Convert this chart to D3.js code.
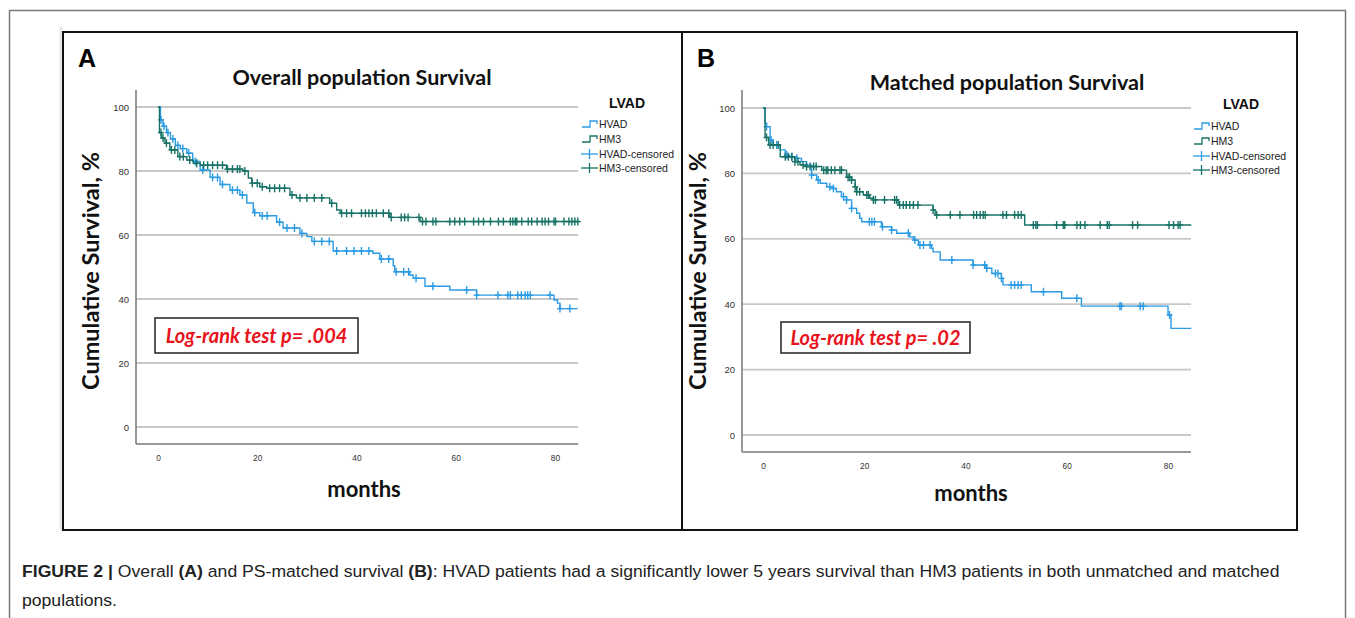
<!DOCTYPE html>
<html><head><meta charset="utf-8">
<script src="https://cdn.jsdelivr.net/npm/d3@7"></script>
<style>
html,body{margin:0;padding:0;background:#fff;}
svg{display:block;}
</style></head>
<body>
<svg id="fig" width="1355" height="618"></svg>
<script>
// ---------- DATA ----------
const xTicks = [0, 20, 40, 60, 80];
const yTicks = [0, 20, 40, 60, 80, 100];
const seriesNames = ["HVAD", "HM3"];
const legendLabels = ["HVAD", "HM3", "HVAD-censored", "HM3-censored"];
const panelTitles = ["Overall population Survival", "Matched population Survival"];
const panelLetters = ["A", "B"];
const logRankTexts = ["Log-rank test p= .004", "Log-rank test p= .02"];
const followUpEnd = [84.6, 84.6];

// Panel A – step changes (months, survival %)
const hvadA_t = [0,0.5,1.0,1.7,2.5,3.5,4.5,5.8,7.0,8.5,10.5,12.5,14.5,16.5,17.9,19.2,20.5,23.9,25.2,28.6,30,31,35.3,43.3,44.7,47.4,47.7,50.7,51.4,53.8,58.8,64.2,79.8,80.5,81];
const hvadA_s = [100,96,94,92,90,88,87,85.6,83,80.3,78,75.8,74,72.5,70,67,66,64,62.2,60.5,59.5,58,55,54.3,52.5,50.4,48.5,47.5,46.5,44,42.8,41.2,39.7,38.7,37];
const hm3A_t = [0,0.3,0.7,1.4,2.4,4,5.8,7.1,8.5,13.8,17.1,18.2,18.9,20.5,21.9,26.6,27.9,34.6,36,36.7,46.7,52.8];
const hm3A_s = [100,92,90.3,88.7,86.6,84.5,83.4,82.4,81.8,80.6,80,77.8,76.2,75.1,74.6,72.5,71.6,69.9,67.8,66.8,65.5,64.2];
const hvadA_cens = [0.6,1.2,2,3,4,5,6.2,7.5,9,11,12,13,15,16,17,19.5,21,22,24.5,26,27.5,29,31.5,33,34.5,36,38,39.5,41,42.5,45,46.5,48,49.5,50.5,52,55.4,62.2,64.2,68.5,70.5,71,72.5,73.2,74,74.5,75,79,81,83];
const hm3A_cens = [0.6,1,1.7,2.7,3.4,4.4,5.1,6.4,7.8,9.2,10,11,12,13,14,15,16,16.5,17.5,19,20,21,22.5,23.5,24.5,25.5,27,28.6,30,31.5,33,35,37,38,39,41,41.8,42.5,43.2,44,45.4,46.5,47,49,49.7,50.4,52.6,53.3,54,55.4,56,58.8,59.8,60.8,61.8,63.6,64.6,65.6,67,68.6,69.6,71,71.5,72,72.3,73.3,74.6,75.3,76.4,77.4,78,78.7,79.8,80.1,81.8,82.8,83.4,84,84.6];

// Panel B – step changes (months, survival %)
const hvadB_t = [0,0.4,0.7,1.4,2.0,3.4,4.4,5.3,6.6,7.6,8.6,9.6,10.6,11.3,12.6,13.9,14.5,15.5,16.5,17.5,18.5,19.1,19.5,23.4,25.4,26.4,29,29.7,30.7,33.3,33.6,35,41.5,44,45.2,47.1,47.4,53,59,62.9,80,80.6];
const hvadB_s = [100,95.3,94.3,90.2,88.7,87.2,85.6,85.1,84.6,83.6,82.6,79.5,78,77,75.9,75.4,74.4,72.9,71.9,69.3,67.8,66.3,65.2,63.7,62.7,61.7,60.6,59.6,58.1,57.1,56,53.5,52,51,49.4,47.9,45.9,43.8,41.8,39.4,36.7,32.6];
const hm3B_t = [0,0.4,1.1,3.4,6.3,7.3,8.6,11.6,16.5,17.5,18.2,18.5,19.8,21.1,21.8,26.7,33.6,34,51.7];
const hm3B_s = [100,91,88.7,85.1,83.6,82.6,82.1,81,78.8,78,75.9,74.4,73.4,72.4,71.9,70.3,68.8,67.3,64.2];
const hvadB_cens = [0.7,1.6,2.7,4.7,5.7,6.7,9.6,10.9,13.2,13.9,15.9,16.5,17.5,21,21.5,22,23.6,25.4,28.7,30,31,31.7,33,37.3,41.5,43.8,44.2,45.9,46.4,47.1,49,49.7,50.4,51,55.4,62,70.5,70.8,74.5,75.1,80.3];
const hm3B_cens = [0.7,1.4,2,3,4.4,5,5.7,6.3,6.9,7.9,8.6,9.3,10,10.5,12,12.5,12.8,13.5,14.2,15.2,15.5,16.8,17.1,17.5,18.2,18.5,19.1,20.5,20.8,21.8,22.2,24,26,26.4,27,27.7,28.3,29,29.7,30.6,33.6,34.3,37,38.9,41.6,42.2,42.9,43.5,43.9,47.4,48.1,49.7,50.4,51,53.4,53.9,54.2,58,59.3,59.6,62,62.7,63.6,66.6,68,68.4,73,74,80.2,81.1,82,82.4];

const captionLine1Bold = "FIGURE 2 |";
const captionLine1 = [
  {t:" Overall ", b:false},{t:"(A)", b:true},{t:" and PS-matched survival ", b:false},{t:"(B)", b:true},
  {t:": HVAD patients had a significantly lower 5 years survival than HM3 patients in both unmatched and matched", b:false}
];
const captionLine2 = "populations.";

// ---------- STYLE ----------
const COL = {HVAD:"#2b9be3", HM3:"#177266"};
const svg = d3.select("#fig");

// outer frames
svg.append("rect").attr("x",9.5).attr("y",10.5).attr("width",1336).attr("height",640)
  .attr("fill","none").attr("stroke","#7a7a7a").attr("stroke-width",1.5);
svg.append("line").attr("x1",61).attr("x2",61).attr("y1",27).attr("y2",530).attr("stroke","#e6e6e6").attr("stroke-width",3);
svg.append("rect").attr("x",63).attr("y",32).attr("width",1234).attr("height",498)
  .attr("fill","none").attr("stroke","#111").attr("stroke-width",2);
svg.append("line").attr("x1",682).attr("x2",682).attr("y1",32).attr("y2",530).attr("stroke","#111").attr("stroke-width",2);

const layouts = [
  {axisX:136, endX:578, x0:158, x80:555, y0:427, y100:107, base:444, top:90,
   letterX:78, titleX:362, titleY:85, ytitleX:99, ytitleY:271, xtitleX:364, xtitleY:497,
   legX:582, legTitleX:627, legTitleY:108, legY:[124,139,154,168],
   box:[155,318,203,35], boxTextY:343,
   data:{HVAD:[hvadA_t,hvadA_s,hvadA_cens], HM3:[hm3A_t,hm3A_s,hm3A_cens]}},
  {axisX:742, endX:1191, x0:763, x80:1168, y0:435, y100:108, base:452, top:90,
   letterX:697, titleX:1007, titleY:90, ytitleX:706, ytitleY:271, xtitleX:971, xtitleY:501,
   legX:1194, legTitleX:1241, legTitleY:109, legY:[126,141,156,170],
   box:[781,322,189,31], boxTextY:345,
   data:{HVAD:[hvadB_t,hvadB_s,hvadB_cens], HM3:[hm3B_t,hm3B_s,hm3B_cens]}}
];

layouts.forEach((L, i) => {
  const g = svg.append("g");
  const x = d3.scaleLinear().domain([0, 80]).range([L.x0, L.x80]);
  const y = d3.scaleLinear().domain([0, 100]).range([L.y0, L.y100]);

  // gridlines
  g.append("g").selectAll("line").data(yTicks).join("line")
    .attr("x1", L.axisX).attr("x2", L.endX)
    .attr("y1", d => y(d)).attr("y2", d => y(d))
    .attr("stroke", "#c8c8c8").attr("stroke-width", 1.8);

  // axes
  const xAxis = d3.axisBottom(x).tickValues(xTicks).tickSize(0).tickPadding(10);
  const xg = g.append("g").attr("transform", `translate(0,${L.base})`).call(xAxis);
  xg.select(".domain").remove();
  xg.selectAll("text").attr("font-family","Liberation Sans, Arial").attr("font-size",9.5).attr("fill","#333")
    .attr("transform","scale(0.88,1)");
  const yAxis = d3.axisLeft(y).tickValues(yTicks).tickSize(0).tickPadding(7);
  const yg = g.append("g").attr("transform", `translate(${L.axisX},0)`).call(yAxis);
  yg.select(".domain").remove();
  yg.selectAll("text").attr("font-family","Liberation Sans, Arial").attr("font-size",9.5).attr("fill","#333");
  g.append("line").attr("x1",L.axisX).attr("x2",L.axisX).attr("y1",L.top).attr("y2",L.base).attr("stroke","#777").attr("stroke-width",1.5);
  g.append("line").attr("x1",L.axisX).attr("x2",L.endX).attr("y1",L.base).attr("y2",L.base).attr("stroke","#777").attr("stroke-width",1.5);

  // curves
  seriesNames.forEach(name => {
    const [t, s, cens] = L.data[name];
    const pts = t.map((d, k) => [d, s[k]]);
    pts.push([followUpEnd[i], s[s.length - 1]]);
    const line = d3.line().x(d => x(d[0])).y(d => y(d[1])).curve(d3.curveStepAfter);
    g.append("path").attr("d", line(pts)).attr("fill","none").attr("stroke",COL[name]).attr("stroke-width",1.4);
    const survAt = m => { let v = s[0]; for (let k = 0; k < t.length; k++) { if (t[k] <= m) v = s[k]; } return v; };
    const cg = g.append("g").attr("stroke", COL[name]).attr("stroke-width", 1.4);
    cens.forEach(m => {
      const cx = x(m), cy = y(survAt(m));
      cg.append("line").attr("x1",cx).attr("x2",cx).attr("y1",cy-4).attr("y2",cy+4);
      cg.append("line").attr("x1",cx-3).attr("x2",cx+3).attr("y1",cy).attr("y2",cy);
    });
  });

  // titles
  svg.append("text").attr("x",L.letterX).attr("y",67).text(panelLetters[i])
    .attr("font-family","Liberation Sans, Arial").attr("font-weight","bold").attr("font-size",25).attr("fill","#000");
  svg.append("text").attr("x",L.titleX).attr("y",L.titleY).attr("text-anchor","middle").text(panelTitles[i])
    .attr("font-family","Lato, Open Sans").attr("font-weight","bold").attr("font-size",21.5).attr("fill","#111");
  svg.append("text").attr("transform",`translate(${L.ytitleX},${L.ytitleY}) rotate(-90)`).attr("text-anchor","middle")
    .text("Cumulative Survival, %").attr("font-family","Lato, Open Sans").attr("font-weight","bold").attr("font-size",23.5).attr("fill","#111");
  svg.append("text").attr("x",L.xtitleX).attr("y",L.xtitleY).attr("text-anchor","middle").text("months")
    .attr("font-family","Lato, Open Sans").attr("font-weight","bold").attr("font-size",22).attr("fill","#111");

  // legend
  svg.append("text").attr("x",L.legTitleX).attr("y",L.legTitleY).attr("text-anchor","middle").text("LVAD")
    .attr("font-family","Liberation Sans, Arial").attr("font-weight","bold").attr("font-size",14).attr("fill","#111");
  legendLabels.forEach((lab, k) => {
    const ly = L.legY[k];
    const col = k % 2 === 0 ? COL.HVAD : COL.HM3;
    if (k < 2) {
      svg.append("path").attr("d",`M${L.legX},${ly+3}H${L.legX+8}V${ly-3}H${L.legX+15}V${ly}`)
        .attr("fill","none").attr("stroke",col).attr("stroke-width",1.3);
    } else {
      svg.append("line").attr("x1",L.legX-1).attr("x2",L.legX+16).attr("y1",ly).attr("y2",ly).attr("stroke",col).attr("stroke-width",1.3);
      svg.append("line").attr("x1",L.legX+7.5).attr("x2",L.legX+7.5).attr("y1",ly-5).attr("y2",ly+5).attr("stroke",col).attr("stroke-width",1.3);
    }
    svg.append("text").attr("x",L.legX+17).attr("y",ly+4).text(lab)
      .attr("font-family","Liberation Sans, Arial").attr("font-size",10.5).attr("fill","#222");
  });

  // log-rank box
  const [bx, by, bw, bh] = L.box;
  svg.append("rect").attr("x",bx).attr("y",by).attr("width",bw).attr("height",bh)
    .attr("fill","#fff").attr("stroke","#222").attr("stroke-width",1.5);
  svg.append("text").attr("x",bx+bw/2).attr("y",L.boxTextY).attr("text-anchor","middle").text(logRankTexts[i])
    .attr("font-family","Lato, Open Sans").attr("font-weight","bold").attr("font-style","italic").attr("font-size",20).attr("fill","#e8131b");
});

// caption (condensed horizontally like the original narrow face)
const capG = svg.append("g");
const cap = capG.append("text").attr("x",0).attr("y",577)
  .attr("font-family","Liberation Sans, Arial").attr("font-size",17).attr("fill","#222");
cap.append("tspan").attr("font-weight","bold").text(captionLine1Bold);
captionLine1.forEach(p => cap.append("tspan").attr("font-weight", p.b ? "bold" : "normal").text(p.t));
capG.append("text").attr("x",0).attr("y",606).text(captionLine2)
  .attr("font-family","Liberation Sans, Arial").attr("font-size",17).attr("fill","#222");
const natW = cap.node().getComputedTextLength();
const sx = 1258 / natW;
capG.attr("transform", `translate(22,0) scale(${sx},1)`);
</script>
</body></html>
